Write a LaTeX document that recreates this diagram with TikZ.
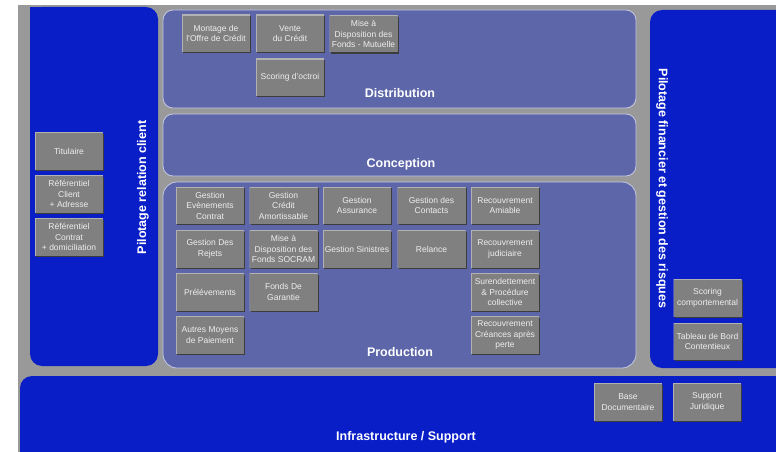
\documentclass[tikz,border=0pt]{standalone}
\usepackage{fontspec}
\setmainfont{Liberation Sans}
\definecolor{fond}{RGB}{153,153,153}
\definecolor{bleu}{RGB}{10,30,200}
\definecolor{mauve}{RGB}{92,102,168}
\definecolor{bord}{RGB}{196,200,228}
\definecolor{caisse}{RGB}{128,128,128}
\definecolor{caisseclair}{RGB}{178,178,178}
\definecolor{caissesombre}{RGB}{60,60,60}
\definecolor{texte}{RGB}{238,238,238}
\tikzset{
  tache/.style={fill=caisse, minimum width=68pt, minimum height=37pt,
    inner sep=0pt, align=center, text=texte,
    font=\fontsize{8.5}{10.5}\selectfont,
    preaction={fill=caissesombre, transform canvas={shift={(1.2pt,-1.2pt)}}},
    path picture={\draw[caisseclair, line width=1.2pt]
      (path picture bounding box.south west) -- (path picture bounding box.north west)
      -- (path picture bounding box.north east);}},
  titre/.style={text=white, inner sep=0pt, font=\bfseries\fontsize{12.5}{14}\selectfont},
  bloc/.style={fill=mauve, draw=bord, line width=0.8pt, rounded corners=10pt},
  pilier/.style={fill=bleu, rounded corners=12pt}
}
\newcommand\tache[4]{\node[tache] (#1) at (#2,#3) {#4};}

\begin{document}
\begin{tikzpicture}[x=1pt,y=-1pt]
  \useasboundingbox (0,0) rectangle (776,452);
  \fill[fond] (18,5) rectangle (776,452);
  % piliers bleus
  \fill[pilier] (30,7) rectangle (158,366);
  \fill[bleu] (30,7) rectangle (90,300);
  \fill[pilier] (650,10) rectangle (800,368);
  \fill[pilier] (20,376) rectangle (800,470);
  % blocs centraux
  \draw[bloc] (163,10) rectangle (636,108);
  \draw[bloc] (163,114) rectangle (636,176);
  \draw[bloc, rounded corners=14pt] (163,182) rectangle (636,368);
  \node[titre] (distribution) at (400,93) {Distribution};
  \node[titre] (conception) at (401,164) {Conception};
  \node[titre] (production) at (400,352) {Production};
  \node[titre] (infra) at (406,437) {Infrastructure / Support};
  \node[titre, rotate=90] (relation) at (143,187.5) {Pilotage relation client};
  \node[titre, rotate=-90] (financier) at (662,188.5) {Pilotage financier et gestion des risques};
  % distribution
  \tache{montage}{216}{33.5}{Montage de\\l'Offre de Crédit}
  \tache{vente}{290}{33.5}{Vente\\du Crédit}
  \tache{mutuelle}{363.5}{34}{Mise à\\Disposition des\\Fonds - Mutuelle}
  \tache{octroi}{290}{77.5}{Scoring d'octroi}
  % relation client
  \tache{titulaire}{69}{151}{Titulaire}
  \tache{refclient}{69}{194}{Référentiel\\Client\\+ Adresse}
  \tache{refcontrat}{69}{237}{Référentiel\\Contrat\\+ domiciliation}
  % production
  \tache{evenements}{210}{205.5}{Gestion\\Evènements\\Contrat}
  \tache{amortissable}{283.5}{205.5}{Gestion\\Crédit\\Amortissable}
  \tache{assurance}{357}{205.5}{Gestion\\Assurance}
  \tache{contacts}{431.5}{205.5}{Gestion des\\Contacts}
  \tache{amiable}{505}{205.5}{Recouvrement\\Amiable}
  \tache{rejets}{210}{249}{Gestion Des\\Rejets}
  \tache{socram}{283.5}{249}{Mise à\\Disposition des\\Fonds SOCRAM}
  \tache{sinistres}{357}{249}{Gestion Sinistres}
  \tache{relance}{431.5}{249}{Relance}
  \tache{judiciaire}{505}{249}{Recouvrement\\judiciaire}
  \tache{prelevements}{210}{292}{Prélévements}
  \tache{garantie}{283.5}{292}{Fonds De\\Garantie}
  \tache{surendettement}{505}{292}{Surendettement\\\& Procédure\\collective}
  \tache{moyens}{210}{335}{Autres Moyens\\de Paiement}
  \tache{perte}{505}{335}{Recouvrement\\Créances après\\perte}
  % pilotage financier
  \tache{comportemental}{707.5}{298}{Scoring\\comportemental}
  \tache{tableau}{707.5}{341.5}{Tableau de Bord\\Contentieux}
  % infrastructure
  \tache{documentaire}{628}{402}{Base\\Documentaire}
  \tache{juridique}{707}{402}{Support\\Juridique}
\end{tikzpicture}
\end{document}
